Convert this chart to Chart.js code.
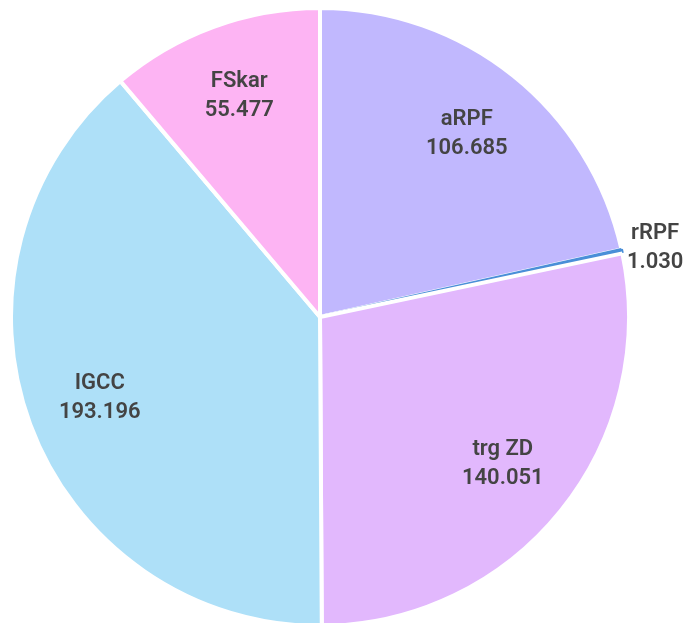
<!DOCTYPE html>
<html><head><meta charset="utf-8">
<script src="https://cdn.jsdelivr.net/npm/chart.js@4/dist/chart.umd.min.js"></script>
<style>html,body{margin:0;padding:0;background:#fff;}#wrap{width:689px;height:623px;}</style>
</head><body><div id="wrap"><canvas id="c"></canvas></div>
<script>
const categories = ['aRPF', 'rRPF', 'trg ZD', 'IGCC', 'FSkar'];
const values = [106.685, 1.030, 140.051, 193.196, 55.477];
const valueLabels = ['106.685', '1.030', '140.051', '193.196', '55.477'];
const colors = ['#c1b8fe', '#4a8fd8', '#e2b8fd', '#aee0f8', '#fdb4f3'];
const outsideLabels = ['rRPF'];

const labelPlugin = {
  id: 'sliceLabels',
  afterDatasetsDraw(chart) {
    const ctx = chart.ctx;
    const meta = chart.getDatasetMeta(0);
    ctx.save();
    ctx.font = '600 22px Roboto';
    ctx.fillStyle = '#444444';
    ctx.textAlign = 'center';
    ctx.textBaseline = 'middle';
    meta.data.forEach((arc, i) => {
      const p = arc.getProps(['x','y','startAngle','endAngle','outerRadius'], true);
      const mid = (p.startAngle + p.endAngle) / 2;
      const outside = outsideLabels.includes(categories[i]);
      const r = p.outerRadius * (outside ? 1.11 : 0.76);
      const x = p.x + Math.cos(mid) * r;
      const y = p.y + Math.sin(mid) * r + (outside ? 4 : 0);
      ctx.fillText(categories[i], x, y - 14.5);
      ctx.fillText(valueLabels[i], x, y + 14.5);
    });
    ctx.restore();
  }
};

new Chart(document.getElementById('c'), {
  type: 'pie',
  data: {
    labels: categories,
    datasets: [{
      data: values,
      backgroundColor: colors,
      borderColor: ['#ffffff', '#4a8fd8', '#ffffff', '#ffffff', '#ffffff'],
      borderWidth: [4, 3, 4, 4, 4],
      radius: 309
    }]
  },
  options: {
    responsive: true,
    maintainAspectRatio: false,
    animation: false,
    layout: { padding: { left: 11, right: 60, top: 11, bottom: 0 } },
    plugins: { legend: { display: false }, tooltip: { enabled: false } }
  },
  plugins: [labelPlugin]
});
</script>
</body></html>
